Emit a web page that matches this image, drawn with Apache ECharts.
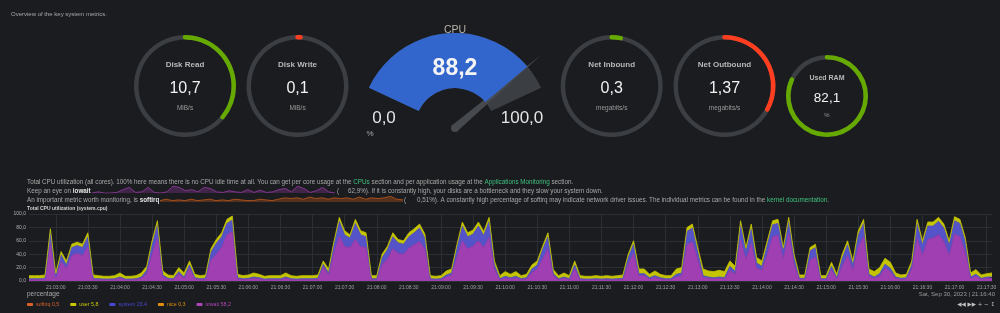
<!DOCTYPE html>
<html>
<head>
<meta charset="utf-8">
<script src="https://cdn.jsdelivr.net/npm/echarts@6/dist/echarts.min.js"></script>
<style>
  html, body { margin: 0; padding: 0; background: #1b1c1f; }
  #main { width: 1000px; height: 313px; }
</style>
</head>
<body>
<div id="main"></div>
<script>
// ring gauges (top row)
const ringNames = ['Disk Read', 'Disk Write', 'Net Inbound', 'Net Outbound', 'Used RAM']
const ringValues = ['10,7', '0,1', '0,3', '1,37', '82,1']
const ringUnits = ['MiB/s', 'MiB/s', 'megabits/s', 'megabits/s', '%']
const ringFill = [36, 1, 3, 33, 82]

// cpu gauge
const cpuValue = 88.2
const cpuScale = ['0,0', '100,0']

// stacked cpu chart, one point every 5s from 21:02:35
const startTime = '21:02:35'
const iowaitPct = [
  2, 2, 2, 2.5, 56, 4, 29, 19, 38, 41,
  38, 51, 2.5, 2, 2, 2, 2, 4, 2, 2,
  2, 4, 11, 40, 64, 6, 2.5, 2, 11, 4,
  19, 3, 2, 2.5, 31, 40, 50, 69, 74, 3,
  2, 2.5, 4, 3, 2, 2, 2, 2, 4, 2,
  2, 2, 2, 2, 2.5, 21, 9, 42, 67, 51,
  50, 62, 51, 50, 2, 2, 25, 33, 48, 41,
  40, 49, 54, 59, 48, 2, 2, 2, 6, 9,
  36, 60, 48, 52, 60, 50, 65, 18, 2, 4,
  3, 4, 2, 3, 13, 18, 33, 48, 8, 2,
  4, 2, 18, 2, 2, 2, 2, 2, 2, 2,
  2, 2.5, 25, 41, 8, 8, 3, 5, 3, 2,
  2, 6, 8, 54, 59, 32, 5, 4, 3, 4,
  3, 16, 10, 62, 32, 56, 19, 16, 40, 66,
  68, 33, 71, 25, 2.5, 2.5, 31, 36, 2, 2,
  17, 3, 22, 38, 16, 51, 66, 7, 4, 7,
  19, 14, 4, 2.5, 3, 18, 64, 38, 62, 64,
  69, 59, 38, 70, 66, 43, 4, 7, 2.5, 4,
  4
]
const systemPct = [
  1.5, 1.5, 1.5, 1.5, 16, 2, 10, 5, 12, 12,
  12, 15, 1.5, 1.5, 1, 1, 1.5, 2, 1, 1,
  1.5, 2, 5, 14, 20, 3, 1.5, 1.5, 3, 2,
  5, 2, 1.5, 1.5, 12, 16, 16, 17, 17, 2,
  1.5, 1.5, 2, 2, 1, 1.5, 1.5, 1.5, 2, 1.5,
  1, 1.5, 1.5, 1.5, 1.5, 4, 3, 12, 22, 18,
  14, 24, 18, 16, 1.5, 1.5, 10, 14, 18, 16,
  15, 17, 18, 20, 16, 1.5, 1, 1.5, 3, 3,
  14, 22, 18, 18, 22, 18, 24, 6, 1.5, 3,
  2, 3, 1.5, 2, 5, 6, 14, 18, 3, 1.5,
  2, 1.5, 6, 1.5, 1, 1, 1.5, 1, 1.5, 1,
  1.5, 1.5, 10, 14, 3, 3, 2, 3, 2, 1.5,
  1.5, 4, 4, 20, 20, 12, 3, 2, 2, 2,
  2, 6, 4, 22, 12, 22, 8, 6, 14, 18,
  18, 12, 18, 10, 1.5, 1.5, 14, 14, 1.5, 1.5,
  5, 2, 12, 16, 8, 18, 20, 3, 2, 4,
  6, 5, 2, 1.5, 2, 6, 22, 16, 20, 18,
  20, 20, 16, 20, 20, 16, 2, 3, 1.5, 2,
  2
]
const userPct = [
  4.5, 4.5, 4.5, 5, 6, 6, 5, 6, 5, 5,
  5, 6, 5, 4.5, 4, 4, 4.5, 6, 4, 4,
  4.5, 6, 6, 6, 6, 6, 5, 4.5, 6, 6,
  6, 5, 4.5, 5, 5, 6, 6, 6, 6, 5,
  4.5, 5, 6, 5, 4, 4.5, 4.5, 4.5, 6, 4.5,
  4, 4.5, 4.5, 4.5, 5, 5, 6, 5, 6, 6,
  5, 6, 6, 6, 4.5, 4.5, 5, 5, 6, 5,
  5, 6, 6, 6, 6, 4.5, 4, 4.5, 6, 6,
  5, 6, 6, 6, 6, 6, 6, 6, 4.5, 7,
  5, 7, 4.5, 5, 6, 6, 5, 6, 6, 4.5,
  6, 4.5, 6, 4.5, 4, 4, 4.5, 4, 4.5, 4,
  4.5, 5, 5, 5, 7, 7, 5, 7, 5, 4.5,
  4.5, 8, 8, 6, 6, 6, 10, 9, 9, 10,
  9, 8, 8, 6, 6, 7, 8, 8, 6, 6,
  6, 5, 6, 5, 5, 5, 5, 5, 4.5, 4.5,
  6, 5, 6, 6, 6, 6, 6, 8, 8, 9,
  9, 9, 6, 5, 5, 6, 6, 6, 6, 6,
  6, 6, 6, 6, 6, 6, 6, 7, 5, 5,
  6
]

// legend (values at the highlighted moment)
const legendNames = ['softirq', 'user', 'system', 'nice', 'iowait']
const legendValues = ['0,5', '5,8', '23,4', '0,3', '58,2']

// inline sparklines in the description text
const iowaitSpark = [0, 1, 0, 0, 0.5, 3, 5, 0.5, 1, 5, 0.5, 0, 1, 6, 5, 2, 3, 1, 5, 4,
  1, 0.5, 2, 1, 0.5, 3, 0.5, 2.5, 0.5, 1, 3, 4, 1, 6, 4, 0.5, 2, 5, 1, 0]
const softirqSpark = [1, 2, 1, 1.5, 1, 2, 1, 1.5, 2, 1, 1.5, 1, 2, 1.5, 1, 1, 2, 1.5, 1, 2,
  3, 2.5, 3, 2, 3.5, 2.5, 3, 2, 3, 2.5, 3, 2, 3.5, 2, 3, 2.5, 3, 4, 2, 1.5]

// time labels
const times = []
{
  const p = startTime.split(':').map(Number)
  let s = p[0] * 3600 + p[1] * 60 + p[2]
  const pad = n => (n < 10 ? '0' : '') + n
  for (let i = 0; i < iowaitPct.length; i++) {
    times.push(pad(Math.floor(s / 3600)) + ':' + pad(Math.floor(s / 60) % 60) + ':' + pad(s % 60))
    s += 5
  }
}

const FONT = '"Liberation Sans", Arial, sans-serif'
const bg = '#1b1c1f'
const track = '#3b3e43'
const TXT = 6.3

const ringLayout = [
  { center: [185, 86], radius: 51, color: '#66aa00', title: 8, value: 16, unit: 6.5, gap: 21 },
  { center: [297.5, 86], radius: 51, color: '#ff3d1f', title: 8, value: 16, unit: 6.5, gap: 21 },
  { center: [611.7, 86], radius: 51, color: '#66aa00', title: 8, value: 16, unit: 6.5, gap: 21 },
  { center: [724.5, 86], radius: 51, color: '#ff3d1f', title: 8, value: 16, unit: 6.5, gap: 21 },
  { center: [827, 96], radius: 41, color: '#66aa00', title: 7, value: 13.5, unit: 6, gap: 18 }
]

const colors = {
  softirq: '#d9602b', user: '#c8c800', system: '#4848d4', nice: '#e08e0b', iowait: '#b145b5'
}
const fills = { user: '#c4c400', system: '#5454c8', iowait: '#a03fb2' }

function ringSeries(i) {
  const l = ringLayout[i]
  return {
    type: 'gauge',
    center: l.center,
    radius: l.radius,
    startAngle: 90,
    endAngle: -270,
    min: 0,
    max: 100,
    axisLine: { lineStyle: { width: 4.5, color: [[1, track]] } },
    progress: { show: true, width: 4.5, roundCap: true, itemStyle: { color: l.color } },
    pointer: { show: false },
    anchor: { show: false },
    axisTick: { show: false },
    splitLine: { show: false },
    axisLabel: { show: false },
    title: {
      offsetCenter: [0, -l.gap], color: '#b8b8b8', fontSize: l.title, fontWeight: 'bold', fontFamily: FONT
    },
    detail: {
      offsetCenter: [0, l.gap / 2],
      fontWeight: 'normal',
      formatter: () => '{v|' + ringValues[i] + '}\n{u|' + ringUnits[i] + '}',
      rich: {
        v: { fontSize: l.value, color: '#f2f2f2', fontFamily: FONT, fontWeight: 'normal', lineHeight: l.gap + 2 },
        u: { fontSize: l.unit, color: '#9a9a9a', fontFamily: FONT, fontWeight: 'normal', lineHeight: l.gap - 5 }
      }
    },
    data: [{ value: ringFill[i], name: ringNames[i] }]
  }
}

function lineSeries(name, data) {
  return {
    name: name,
    type: 'line',
    stack: 'cpu',
    data: data,
    showSymbol: false,
    symbol: 'none',
    color: colors[name],
    lineStyle: { width: 0.8, color: fills[name] || colors[name] },
    areaStyle: { color: fills[name] || colors[name], opacity: 1 },
    emphasis: { disabled: true }
  }
}

const richLegend = {}
legendNames.forEach(n => { richLegend[n] = { color: colors[n], fontSize: 5.3, fontFamily: FONT } })

const txt = (x, y, text, opt) => ({
  type: 'text',
  x: x,
  y: y,
  z: 100,
  silent: true,
  style: Object.assign({
    text: text, fill: '#a8a8a8', fontSize: TXT, fontFamily: FONT, verticalAlign: 'middle'
  }, opt || {})
})

const richText = {
  g: { fill: '#3fc07f', fontSize: TXT, fontFamily: FONT },
  b: { fill: '#e6e6e6', fontSize: TXT, fontFamily: FONT, fontWeight: 'bold' }
}

const option = {
  backgroundColor: bg,
  animation: false,
  textStyle: { fontFamily: FONT },
  legend: {
    data: legendNames,
    left: 27,
    top: 302,
    padding: 0,
    itemWidth: 6,
    itemHeight: 3,
    itemGap: 11,
    icon: 'roundRect',
    formatter: n => '{' + n + '|' + n + ' ' + legendValues[legendNames.indexOf(n)] + '}',
    textStyle: { fontSize: 5.3, rich: richLegend, padding: [0, 0, 0, -2] },
    selectedMode: false
  },
  grid: [
    { left: 29, right: 8, top: 214, height: 67 },
    { left: 92, width: 243, top: 184, height: 9 },
    { left: 160, width: 243, top: 195, height: 7 }
  ],
  xAxis: [
    {
      type: 'category',
      data: times,
      boundaryGap: false,
      gridIndex: 0,
      axisLine: { lineStyle: { color: '#2c2f33' } },
      axisTick: { show: false },
      axisLabel: {
        interval: i => i % 6 === 5, color: '#a0a0a0', fontSize: 5, margin: 4, fontFamily: FONT
      },
      splitLine: { show: true, interval: i => i % 6 === 5, lineStyle: { color: '#2b2e32', width: 1 } }
    },
    { type: 'category', gridIndex: 1, show: false, boundaryGap: false, data: iowaitSpark.map((v, i) => i) },
    { type: 'category', gridIndex: 2, show: false, boundaryGap: false, data: softirqSpark.map((v, i) => i) }
  ],
  yAxis: [
    {
      type: 'value',
      gridIndex: 0,
      min: 0,
      max: 100,
      interval: 20,
      axisLine: { show: false },
      axisTick: { show: false },
      axisLabel: {
        color: '#b0b0b0', fontSize: 5, margin: 3, fontFamily: FONT,
        formatter: v => v.toFixed(1).replace('.', ',')
      },
      splitLine: { lineStyle: { color: '#2b2e32', width: 1 } }
    },
    { type: 'value', gridIndex: 1, show: false, min: 0, max: 8 },
    { type: 'value', gridIndex: 2, show: false, min: 0, max: 5 }
  ],
  series: [
    lineSeries('iowait', iowaitPct),
    lineSeries('nice', []),
    lineSeries('system', systemPct),
    lineSeries('user', userPct),
    lineSeries('softirq', []),
    {
      type: 'line', xAxisIndex: 1, yAxisIndex: 1, data: iowaitSpark, symbol: 'none',
      lineStyle: { width: 0.8, color: '#9b3ca8' }, areaStyle: { color: '#9b3ca8', opacity: 0.3 }
    },
    {
      type: 'line', xAxisIndex: 2, yAxisIndex: 2, data: softirqSpark, symbol: 'none',
      lineStyle: { width: 0.8, color: '#c25a1c' }, areaStyle: { color: '#c25a1c', opacity: 0.35 }
    },
    {
      type: 'gauge',
      center: [455, 128],
      radius: 95,
      startAngle: 155,
      endAngle: 25,
      min: 0,
      max: 100,
      axisLine: { lineStyle: { width: 55, color: [[1, track]] } },
      progress: { show: true, width: 55, itemStyle: { color: '#3366cc' } },
      pointer: {
        icon: 'path://M0,1 L0.5,0 L1,1 Z',
        length: 114,
        width: 8,
        offsetCenter: [0, 0],
        itemStyle: { color: '#46494e' }
      },
      anchor: { show: true, size: 8, showAbove: true, itemStyle: { color: '#46494e' } },
      axisTick: { show: false },
      splitLine: { show: false },
      axisLabel: { show: false },
      title: { offsetCenter: [0, -98], color: '#b8b3a8', fontSize: 10.5, fontFamily: FONT },
      detail: { show: false },
      data: [{ value: cpuValue, name: 'CPU' }]
    }
  ].concat(ringNames.map((n, i) => ringSeries(i))),
  graphic: [
    txt(11, 14, 'Overview of the key system metrics.', { fontSize: 6 }),
    txt(455, 69, cpuValue.toFixed(1).replace('.', ','), { fontSize: 23, fontWeight: 'bold', fill: '#f4f4f4', align: 'center' }),
    txt(384, 118, cpuScale[0], { fontSize: 17, fill: '#e4e4e4', align: 'center' }),
    txt(522, 118, cpuScale[1], { fontSize: 17, fill: '#e4e4e4', align: 'center' }),
    txt(370, 134, '%', { fontSize: 8, fill: '#a8a8a8', align: 'center' }),
    txt(27, 182, 'Total CPU utilization (all cores). 100% here means there is no CPU idle time at all. You can get per core usage at the {g|CPUs} section and per application usage at the {g|Applications Monitoring} section.', { rich: richText }),
    txt(27, 191, 'Keep an eye on {b|iowait}', { rich: richText }),
    txt(337, 191, '(', {}),
    txt(348, 191, '62,9%). If it is constantly high, your disks are a bottleneck and they slow your system down.', {}),
    txt(27, 200, 'An important metric worth monitoring, is {b|softirq}', { rich: richText }),
    txt(404, 200, '(', {}),
    txt(417, 200, '0,51%). A constantly high percentage of softirq may indicate network driver issues. The individual metrics can be found in the {g|kernel documentation}.', { rich: richText }),
    txt(27, 209, 'Total CPU utilization (system.cpu)', { fontSize: 5, fontWeight: 'bold', fill: '#d0d0d0' }),
    txt(27, 294, 'percentage', { fontSize: 6.5, fill: '#a8a8a8' }),
    txt(995, 294, 'Sat, Sep 30, 2023 | 21:16:40', { fontSize: 6, fill: '#9a9a9a', align: 'right' }),
    txt(995, 305, '\u25C0\u25C0 \u25B6\u25B6 + \u2212 \u2195', { fontSize: 5.5, fill: '#c0c0c0', align: 'right', fontFamily: '"DejaVu Sans", sans-serif' })
  ]
}

const myChart = echarts.init(document.getElementById('main'))
myChart.setOption(option)
</script>
</body>
</html>
